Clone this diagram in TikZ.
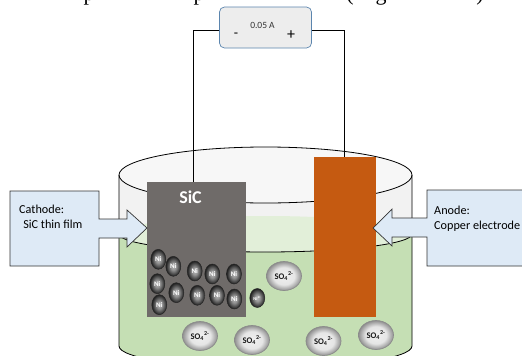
\documentclass[tikz,border=0pt]{standalone}
\usepackage{fontspec}
\setmainfont{Carlito}
\newfontfamily\serifcap{Liberation Serif}
\usetikzlibrary{shapes.geometric}
\definecolor{liquid}{HTML}{C5DFB4}
\definecolor{liquidtop}{HTML}{E2EFD9}
\definecolor{glass}{HTML}{F2F2F2}
\definecolor{sicgrey}{HTML}{6F6B69}
\definecolor{copperc}{HTML}{C55A11}
\definecolor{callout}{HTML}{DEEAF6}
\definecolor{meterblue}{HTML}{5B85AE}
\definecolor{meterfill}{HTML}{EDEDED}
\pgfdeclareradialshading{soshade}{\pgfpoint{0bp}{0bp}}{color(0bp)=(black!6); color(15bp)=(black!10); color(27bp)=(black!50); color(50bp)=(black!50)}
\pgfdeclareradialshading{nishade}{\pgfpoint{0bp}{0bp}}{color(0bp)=(black!28); color(9bp)=(black!42); color(25bp)=(black!88); color(50bp)=(black!88)}
\tikzset{
 x=1pt,y=-1pt,
 wire/.style={draw=black,line width=0.7pt},
 rim/.style={draw=black,line width=0.8pt},
 niball/.style={shape=ellipse,minimum width=15pt,minimum height=20pt,inner sep=0pt,draw=black!85,line width=0.5pt,
   shading=nishade,text=white,font=\bfseries\fontsize{7}{8}\selectfont},
 niion/.style={niball,font=\bfseries\fontsize{4.5}{5}\selectfont,minimum height=19pt},
 soball/.style={shape=ellipse,minimum width=35pt,minimum height=29pt,inner sep=0pt,draw=black!45,line width=0.7pt,
   shading=soshade,text=black!90,font=\bfseries\fontsize{8.6}{9}\selectfont},
 calloutbox/.style={fill=callout,draw=black!80,line width=0.7pt},
 electrode/.style={shape=rectangle,inner sep=0pt,anchor=north west},
 cutglyph/.style={anchor=base,inner sep=0pt,font=\serifcap\fontsize{22}{24}\selectfont},
 calltext/.style={anchor=west,inner sep=0pt,align=left,font=\fontsize{12.2}{15}\selectfont},
}
\begin{document}
\begin{tikzpicture}
\useasboundingbox (0,0) rectangle (522,356);
\begin{scope}
\clip (0,0) rectangle (522,356);
\fill[white] (0,0) rectangle (522,356);
% descenders of a line of body text, cut off by the picture's top edge
\node[cutglyph] (p1) at (89,0) {p};
\node[cutglyph] (p2) at (199,0) {p};
\node[cutglyph] (po) at (350,0) {(};
\node[cutglyph] (gg) at (381,0) {g};
\node[cutglyph] (pc) at (480,0) {)};
% beaker body
\fill[glass] (119,175) -- (119,346) arc[start angle=180,end angle=360,x radius=146.5,y radius=-22] -- (412,175) -- cycle;
\fill[glass!60!white] (265.5,175) ellipse[x radius=146.5,y radius=28];
% liquid
\fill[liquid] (119,234) -- (119,346) arc[start angle=180,end angle=360,x radius=146.5,y radius=-22] -- (412,234) -- cycle;
\fill[liquidtop] (265.5,234) ellipse[x radius=146.5,y radius=18];
\draw[rim] (119,234) arc[start angle=180,end angle=360,x radius=146.5,y radius=-18];
% outline
\draw[rim] (119,175) -- (119,346) arc[start angle=180,end angle=360,x radius=146.5,y radius=-22] -- (412,175);
\draw[rim] (265.5,175) ellipse[x radius=146.5,y radius=28];
\end{scope}
% electrodes
\node[electrode,fill=sicgrey,minimum width=99pt,minimum height=135pt] (sic) at (147,182) {};
\node[electrode,fill=copperc,minimum width=62pt,minimum height=160pt] (cu) at (313.5,157) {};
\node[text=white,font=\bfseries\fontsize{18}{20}\selectfont] (siclabel) at (190.5,197) {SiC};
% meter
\node[shape=rectangle,rounded corners=5pt,fill=meterfill,draw=meterblue,line width=0.7pt,minimum width=92pt,minimum height=41pt,inner sep=0pt] (meter) at (265.5,27.5) {};
\node[font=\fontsize{9.5}{10}\selectfont,text=black!80] (amp) at (262.5,25.5) {0.05 A};
\node[font=\fontsize{14}{15}\selectfont] (minus) at (236,35) {-};
\node[font=\fontsize{16}{17}\selectfont] (plus) at (291,35) {+};
\coordinate (sictop) at (193,182);
\coordinate (cutop) at (344.5,157);
\draw[wire] (meter.west |- 0,30) -- (193,30) -- (sictop);
\draw[wire] (meter.east |- 0,30) -- (344.5,30) -- (cutop);
% call-outs
\draw[calloutbox] (10,191) -- (99,191) -- (99,219) -- (127,219) -- (127,210) -- (147,228) -- (127,247) -- (127,238) -- (99,238) -- (99,266) -- (10,266) -- cycle;
\node[calltext] (cathode) at (19,216.5) {Cathode:\\\,\,SiC thin film};
\draw[calloutbox] (522.5,190) -- (427,190) -- (427,218) -- (392,218) -- (392,209) -- (373,228) -- (392,246) -- (392,237) -- (427,237) -- (427,266) -- (522.5,266) -- cycle;
\node[calltext] (anode) at (434,218.5) {Anode:\\Copper electrode};
% Ni
\node[niball] (n1) at (158.3,259.3) {Ni};
\node[niball] (n2) at (173.3,266.3) {Ni};
\node[niball] (n3) at (194.7,271) {Ni};
\node[niball] (n4) at (212.3,274) {Ni};
\node[niball] (n5) at (234,274) {Ni};
\node[niball] (n6) at (157.3,283.7) {Ni};
\node[niball] (n7) at (176.3,292.7) {Ni};
\node[niball] (n8) at (197.3,295.3) {Ni};
\node[niball] (n9) at (217,295.3) {Ni};
\node[niball] (n10) at (234.3,299) {Ni};
\node[niball] (n11) at (159.3,304.7) {Ni};
\node[niion] (ni) at (257.3,298) {Ni\textsuperscript{2+}};
% sulphate
\newcommand{\sulph}{SO\textsubscript{4}\textsuperscript{2-}}
\node[soball] (s1) at (200,336) {\sulph};
\node[soball] (s2) at (252,340) {\sulph};
\node[soball] (s3) at (284,276) {\sulph};
\node[soball] (s4) at (323.5,341) {\sulph};
\node[soball] (s5) at (376,335) {\sulph};
\end{tikzpicture}
\end{document}
